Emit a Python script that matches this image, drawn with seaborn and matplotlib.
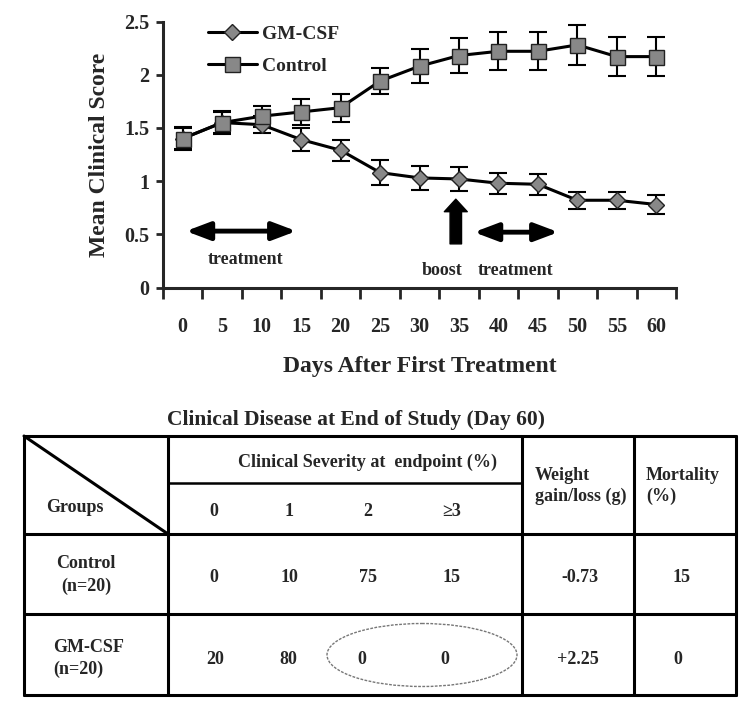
import numpy as np
import pandas as pd
import matplotlib
matplotlib.use("Agg")
import matplotlib.pyplot as plt
import seaborn as sns
from matplotlib.patches import Ellipse

# ---------------- data ----------------
days = [0, 5, 10, 15, 20, 25, 30, 35, 40, 45, 50, 55, 60]
gm_mean = [1.40, 1.55, 1.53, 1.39, 1.29, 1.08, 1.03, 1.02, 0.98, 0.97, 0.82, 0.82, 0.78]
gm_err = [0.10, 0.10, 0.08, 0.11, 0.10, 0.12, 0.11, 0.11, 0.10, 0.10, 0.08, 0.08, 0.085]
ctl_mean = [1.40, 1.55, 1.61, 1.65, 1.69, 1.94, 2.08, 2.18, 2.22, 2.22, 2.28, 2.17, 2.17]
ctl_err = [0.11, 0.11, 0.10, 0.12, 0.13, 0.12, 0.16, 0.165, 0.18, 0.18, 0.19, 0.18, 0.18]
y_ticks = [0, 0.5, 1, 1.5, 2, 2.5]
y_tick_labels = ["0", "0.5", "1", "1.5", "2", "2.5"]

table_title = "Clinical Disease at End of Study (Day 60)"
severity_levels = ["0", "1", "2", "\u22653"]
group_names = ["Control", "GM-CSF"]
group_n = ["(n=20)", "(n=20)"]
control_severity = ["0", "10", "75", "15"]
gm_severity = ["20", "80", "0", "0"]
weight_change = ["-0.73", "+2.25"]
mortality = ["15", "0"]

# ---------------- style ----------------
sns.set_style("ticks")
plt.rcParams["font.family"] = ["Liberation Serif", "DejaVu Serif"]
plt.rcParams["font.weight"] = "bold"

W, H = 750, 707
fig = plt.figure(figsize=(W / 100, H / 100), dpi=100)

def fx(px):
    return px / W

def fy(py):
    return 1 - py / H

ax_l, ax_r, ax_t, ax_b = 163, 676, 21.5, 287.5
ax = fig.add_axes([fx(ax_l), fy(ax_b), (ax_r - ax_l) / W, (ax_b - ax_t) / H])

series = [
    ("GM-CSF", gm_mean, gm_err, "D", 8.2),
    ("Control", ctl_mean, ctl_err, "s", 10.8),
]
for name, mean, err, marker, ms in series:
    df = pd.DataFrame({"day": days, "score": mean})
    ax.errorbar(days, mean, yerr=err, fmt="none", ecolor="black",
                elinewidth=1.5, capsize=6.5, capthick=1.5, zorder=2)
    sns.lineplot(data=df, x="day", y="score", ax=ax, color="black",
                 linewidth=2.2, marker=marker, markersize=ms,
                 markerfacecolor="#888888", markeredgecolor="#222222",
                 markeredgewidth=1.0, label=name, zorder=3, errorbar=None)

ax.set_xlim(-2.5, 62.5)
ax.set_ylim(0, 2.5)
ax.set_xticks(days)
ax.set_xticklabels([str(d) for d in days])
ax.set_xticks(np.arange(-2.5, 63, 5), minor=True)
ax.set_yticks(y_ticks)
ax.set_yticklabels(y_tick_labels)
ax.tick_params(axis="x", which="major", length=0, pad=21, labelsize=14.5)
ax.tick_params(axis="x", which="minor", length=8, width=2, direction="out")
ax.tick_params(axis="y", which="major", length=5, width=2, pad=5, labelsize=14.5)
for lab in ax.get_xticklabels() + ax.get_yticklabels():
    lab.set_fontweight("bold")
sns.despine(ax=ax)
for s in ["left", "bottom"]:
    ax.spines[s].set_linewidth(2.2)

ax.set_xlabel("Days After First Treatment", fontsize=17, fontweight="bold", labelpad=14)
ax.set_ylabel("Mean Clinical Score", fontsize=17, fontweight="bold", labelpad=10)

handles, labels = ax.get_legend_handles_labels()
ax.legend(handles, labels, loc="upper left", bbox_to_anchor=(fx(208), fy(25)),
          bbox_transform=fig.transFigure, frameon=False, borderpad=0,
          borderaxespad=0, handlelength=2.5, handletextpad=0.3,
          labelspacing=0.75, numpoints=1, prop={"size": 14, "weight": "bold"})

# annotations
dbl = dict(arrowstyle="<|-|>,head_length=0.9,head_width=0.34", color="black",
           lw=3.5, mutation_scale=16, shrinkA=0, shrinkB=0)
ax.annotate("", xy=(0.4, 0.53), xytext=(14.4, 0.53), arrowprops=dbl)
ax.annotate("", xy=(36.9, 0.52), xytext=(47.6, 0.52), arrowprops=dbl)
ax.annotate("", xy=(34.6, 0.83), xytext=(34.6, 0.41),
            arrowprops=dict(arrowstyle="simple,head_length=0.6,head_width=1.1,tail_width=0.55",
                            color="black", mutation_scale=15, shrinkA=0, shrinkB=0))
ax.text(7.9, 0.26, "treatment", ha="center", va="center", fontsize=13, fontweight="bold")
ax.text(32.9, 0.157, "boost", ha="center", va="center", fontsize=13, fontweight="bold")
ax.text(42.2, 0.157, "treatment", ha="center", va="center", fontsize=13, fontweight="bold")

# ---------------- table ----------------
tb = fig.add_axes([0, 0, 1, 1], zorder=-1)
tb.set_xlim(0, W)
tb.set_ylim(H, 0)
tb.axis("off")

L, R = 24, 736
T, HB, CB, B = 436, 534, 614, 695
C1, C2, C3 = 168, 522, 634
SUB = 483
lw = 2.2
tb.plot([L, R], [T, T], color="black", lw=lw)
tb.plot([L, R], [HB, HB], color="black", lw=lw)
tb.plot([L, R], [CB, CB], color="black", lw=lw)
tb.plot([L, R], [B, B], color="black", lw=lw)
for x in [L, C1, C2, C3, R]:
    tb.plot([x, x], [T, B], color="black", lw=lw)
tb.plot([C1, C2], [SUB, SUB], color="black", lw=1.8)
tb.plot([L, C1], [T, HB], color="black", lw=2.2)

tfs = 13
tb.text(356, 420, table_title, ha="center", va="center", fontsize=15.5, fontweight="bold")
tb.text(367, 462, "Clinical Severity at  endpoint (%)", ha="center", va="center",
        fontsize=tfs, fontweight="bold")
tb.text(46, 508, "Groups", ha="left", va="center", fontsize=tfs, fontweight="bold")
sev_x = [214, 289, 368, 452]
for x, s in zip(sev_x, severity_levels):
    tb.text(x, 511, s, ha="center", va="center", fontsize=tfs, fontweight="bold")
tb.text(535, 475, "Weight", ha="left", va="center", fontsize=tfs, fontweight="bold")
tb.text(535, 496, "gain/loss (g)", ha="left", va="center", fontsize=tfs, fontweight="bold")
tb.text(646, 475, "Mortality", ha="left", va="center", fontsize=tfs, fontweight="bold")
tb.text(646, 496, "(%)", ha="left", va="center", fontsize=tfs, fontweight="bold")

# control row
tb.text(86, 563, group_names[0], ha="center", va="center", fontsize=tfs, fontweight="bold")
tb.text(86, 586, group_n[0], ha="center", va="center", fontsize=tfs, fontweight="bold")
for x, v in zip(sev_x, control_severity):
    tb.text(x, 577, v, ha="center", va="center", fontsize=tfs, fontweight="bold")
tb.text(580, 577, weight_change[0], ha="center", va="center", fontsize=tfs, fontweight="bold")
tb.text(682, 577, mortality[0], ha="center", va="center", fontsize=tfs, fontweight="bold")

# GM-CSF row
tb.text(53, 647, group_names[1], ha="left", va="center", fontsize=tfs, fontweight="bold")
tb.text(53, 669, group_n[1], ha="left", va="center", fontsize=tfs, fontweight="bold")
gm_x = [215, 288, 362, 445]
for x, v in zip(gm_x, gm_severity):
    tb.text(x, 659, v, ha="center", va="center", fontsize=tfs, fontweight="bold")
tb.text(578, 660, weight_change[1], ha="center", va="center", fontsize=tfs, fontweight="bold")
tb.text(678, 660, mortality[1], ha="center", va="center", fontsize=tfs, fontweight="bold")

tb.add_patch(Ellipse((422, 655), 190, 63, fill=False, edgecolor="#777777",
                     lw=1.0, linestyle=(0, (2, 1))))

fig.savefig("out.png", dpi=100)
